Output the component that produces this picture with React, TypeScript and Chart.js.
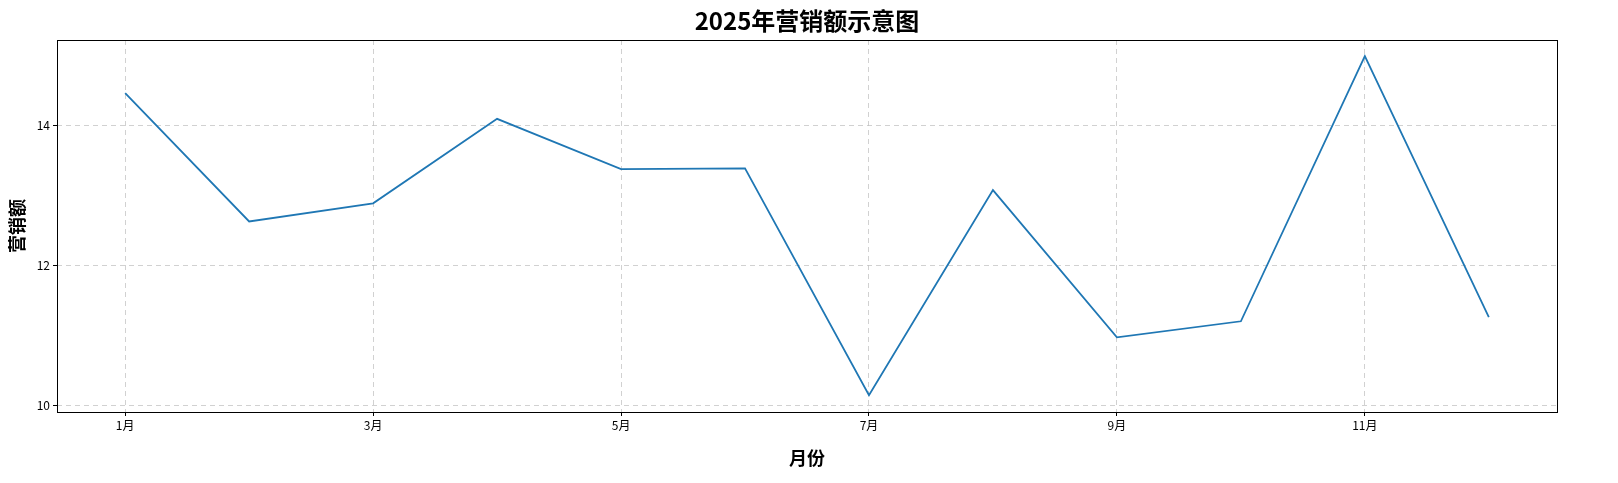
import { useEffect, useRef } from 'react';
import { Chart, registerables } from 'chart.js';

Chart.register(...registerables);

const months = [1, 2, 3, 4, 5, 6, 7, 8, 9, 10, 11, 12];
const sales = [14.47, 12.63, 12.89, 14.1, 13.38, 13.39, 10.14, 13.08, 10.97, 11.2, 15.0, 11.26];
const xTicks = [1, 3, 5, 7, 9, 11];
const yTicks = [10, 12, 14];

const FONT = '"Noto Sans CJK SC", "DejaVu Sans", sans-serif';

const framePlugin = {
  id: 'frame',
  afterDraw(chart: Chart) {
    const { ctx, chartArea: a } = chart;
    ctx.save();
    ctx.strokeStyle = '#000';
    ctx.lineWidth = 1;
    ctx.strokeRect(a.left + 0.5, a.top + 0.5, a.right - a.left, a.bottom - a.top);
    ctx.fillStyle = '#000';
    ctx.font = `bold 24px ${FONT}`;
    ctx.textAlign = 'center';
    ctx.textBaseline = 'middle';
    ctx.fillText('2025年营销额示意图', (a.left + a.right) / 2, 21);
    ctx.restore();
  },
};

export default function App() {
  const ref = useRef<HTMLCanvasElement>(null);

  useEffect(() => {
    if (!ref.current) return;
    const chart = new Chart(ref.current, {
      type: 'line',
      data: {
        datasets: [{
          data: months.map((m, i) => ({ x: m, y: sales[i] })),
          borderColor: '#1f77b4',
          borderWidth: 1.8,
          pointRadius: 0,
          tension: 0,
          fill: false,
        }],
      },
      options: {
        animation: false,
        responsive: false,
        layout: { padding: { top: 40, right: 61, left: 0, bottom: 0 } },
        plugins: { legend: { display: false }, tooltip: { enabled: false } },
        scales: {
          x: {
            type: 'linear',
            min: 0.45,
            max: 12.55,
            afterBuildTicks: (s: any) => { s.ticks = xTicks.map(v => ({ value: v })); },
            afterFit: (s: any) => { s.height = 71; },
            border: { display: false, dash: [5, 4] },
            grid: { color: 'rgba(190,190,190,0.7)', tickColor: '#000', tickBorderDash: [], tickLength: 4 },
            ticks: { color: '#000', font: { family: FONT, size: 12 }, callback: (v: any) => `${v}月`, padding: 2, maxRotation: 0 },
            title: { display: true, text: '月份', color: '#000', font: { family: FONT, size: 18, weight: 'bold' }, padding: { top: 0, bottom: 14 } },
          },
          y: {
            min: 9.9,
            max: 15.23,
            afterBuildTicks: (s: any) => { s.ticks = yTicks.map(v => ({ value: v })); },
            afterFit: (s: any) => { s.width = 57; },
            border: { display: false, dash: [5, 4] },
            grid: { color: 'rgba(190,190,190,0.7)', tickColor: '#000', tickBorderDash: [], tickLength: 4 },
            ticks: { color: '#000', font: { family: FONT, size: 12 }, padding: 3 },
            title: { display: true, text: '营销额', color: '#000', font: { family: FONT, size: 18, weight: 'bold' }, padding: { top: 6, bottom: 2 } },
          },
        },
      },
      plugins: [framePlugin],
    });
    return () => chart.destroy();
  }, []);

  return (
    <div style={{ position: 'absolute', left: 0, top: 0, width: 1618, height: 483, background: '#fff' }}>
      <canvas ref={ref} width={1618} height={483} style={{ width: 1618, height: 483 }} />
    </div>
  );
}
